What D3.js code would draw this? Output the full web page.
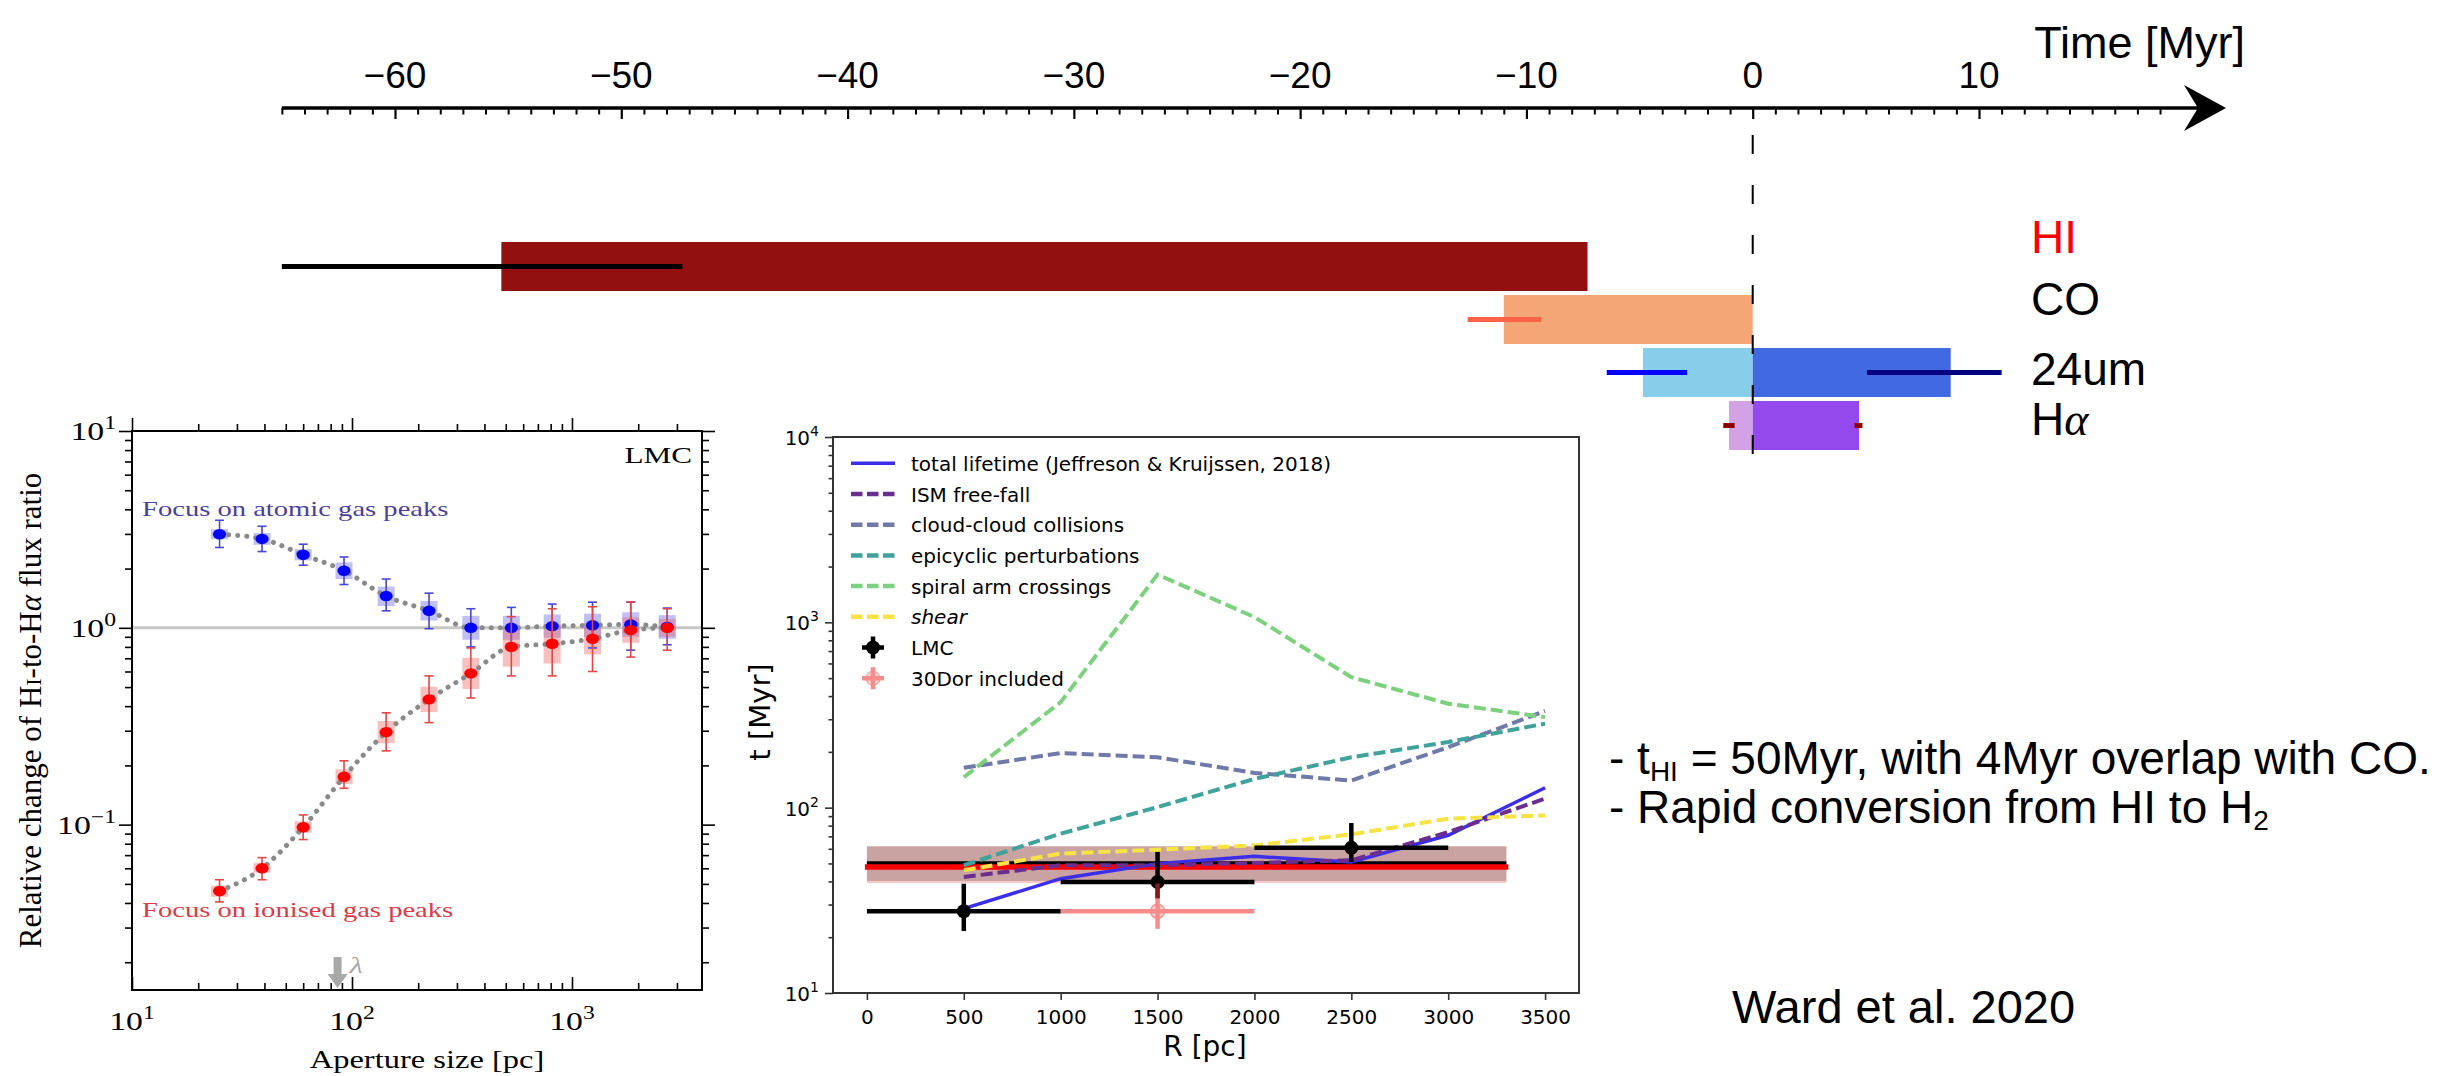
<!DOCTYPE html>
<html><head><meta charset="utf-8">
<script src="https://cdn.jsdelivr.net/npm/d3@7"></script>
<style>body{margin:0;background:#fff}</style>
</head><body>
<svg id="c" width="2461" height="1076" xmlns="http://www.w3.org/2000/svg"></svg>
<script>
// ================= DATA =================
// --- Timeline ---
const timeTicks = [-60, -50, -40, -30, -20, -10, 0, 10];
const timeMinorFrom = -65, timeMinorTo = 18;
const tracers = ["HI", "CO", "24um", "Hα"];
const segTracer = [0, 1, 2, 2, 3, 3];
const segStart  = [-55.3, -11.0, -4.85, 0, -1.05, 0];
const segEnd    = [-7.3, 0, 0, 8.75, 0, 4.7];
const errTracer = [0, 1, 2, 2, 3, 3];
const errStart  = [-65.0, -12.6, -6.45, 5.05, -1.3, 4.5];
const errEnd    = [-47.3, -9.35, -2.9, 11.0, -0.8, 4.85];

// --- Left panel (aperture size vs relative change) ---
const apertureSizes = [25, 39, 60, 92, 143, 224, 347, 530, 813, 1240, 1850, 2710];
const atomicRatio = [2.99, 2.83, 2.35, 1.95, 1.45, 1.22, 1.0, 1.0, 1.02, 1.03, 1.04, 1.01];
const atomicErrLo = [2.56, 2.44, 2.08, 1.66, 1.22, 0.99, 0.80, 0.80, 0.80, 0.79, 0.77, 0.82];
const atomicErrHi = [3.52, 3.28, 2.66, 2.29, 1.77, 1.50, 1.25, 1.27, 1.32, 1.35, 1.35, 1.26];
const atomicBoxLo = [2.82, 2.64, 2.20, 1.77, 1.29, 1.09, 0.87, 0.87, 0.89, 0.90, 0.90, 0.88];
const atomicBoxHi = [3.17, 3.03, 2.51, 2.15, 1.62, 1.37, 1.15, 1.15, 1.17, 1.18, 1.20, 1.16];
const ionisedRatio = [0.046, 0.060, 0.097, 0.175, 0.295, 0.433, 0.587, 0.80, 0.83, 0.88, 0.973, 1.0];
const ionisedErrLo = [0.0405, 0.0525, 0.084, 0.153, 0.237, 0.33, 0.44, 0.57, 0.57, 0.60, 0.71, 0.77];
const ionisedErrHi = [0.0525, 0.068, 0.112, 0.211, 0.37, 0.57, 0.79, 1.14, 1.25, 1.28, 1.355, 1.25];
const ionisedBoxLo = [0.043, 0.057, 0.091, 0.161, 0.259, 0.373, 0.489, 0.635, 0.659, 0.733, 0.839, 0.90];
const ionisedBoxHi = [0.049, 0.064, 0.104, 0.191, 0.336, 0.502, 0.704, 1.008, 1.046, 1.056, 1.129, 1.11];
const lambdaScale = 86;
const apMajor = [10, 100, 1000];
const apMinor = [20,30,40,50,60,70,80,90,200,300,400,500,600,700,800,900,2000,3000];
const ratioMajor = [0.1, 1, 10];
const ratioMinor = [0.02,0.03,0.04,0.05,0.06,0.07,0.08,0.09,0.2,0.3,0.4,0.5,0.6,0.7,0.8,0.9,2,3,4,5,6,7,8,9];

// --- Middle panel (R vs t) ---
const radii = [500, 1000, 1500, 2000, 2500, 3000, 3500];
const totalLifetime   = [28.5, 41.4, 49.9, 54.6, 50.9, 71, 128];
const ismFreeFall     = [42.3, 48.9, 48.9, 50.3, 52, 73.8, 112];
const cloudCollisions = [164, 197, 187, 154, 140, 212, 332];
const epicyclic       = [48.9, 72.4, 100.7, 143, 187, 226, 284];
const spiralArm       = [146, 371, 1812, 1067, 506, 364, 308];
const shearT          = [45.9, 56.5, 59.3, 62.6, 71.8, 87.2, 90.8];
const lmcR = [500, 1500, 2500];
const lmcT = [27.6, 39.7, 60.8];
const lmcTLo = [21.6, 32.4, 50.9];
const lmcTHi = [38.9, 57.7, 82.6];
const lmcRErr = [500, 500, 500];
const dorR = [1500];
const dorT = [27.6];
const dorTLo = [22.2];
const dorTHi = [39.0];
const dorRErr = [500];
const bandR = [0, 3300];
const bandLMC = [40.2, 61.8];
const band30Dor = [39.2, 61.8];
const meanLMC = 50;
const mean30Dor = 47.9;
const radTicks = [0, 500, 1000, 1500, 2000, 2500, 3000, 3500];
const tMajor = [10, 100, 1000, 10000];
const tMinor = [20,30,40,50,60,70,80,90,200,300,400,500,600,700,800,900,2000,3000,4000,5000,6000,7000,8000,9000];
const legendLabels = ["total lifetime (Jeffreson & Kruijssen, 2018)", "ISM free-fall", "cloud-cloud collisions",
  "epicyclic perturbations", "spiral arm crossings", "shear", "LMC", "30Dor included"];

// ================= STYLES =================
const segColors = ["#931011", "#f5a677", "#87ceeb", "#4169e1", "#d3a2e5", "#9449ec"];
const errColors = ["#000000", "#ff6347", "#0000ff", "#000080", "#8b0000", "#8b0000"];
const labelColors = ["#ff0000", "#000", "#000", "#000"];
const labelDy = [-13.5, -4.5, 12.5, 9.5];
const curveColors = ["#3b2de8", "#6b2d8e", "#6f7aa9", "#3fa39b", "#7cd17d", "#f6e445"];
const SANS = "'Liberation Sans', Arial, sans-serif";
const SERIF = "'Liberation Serif', 'Times New Roman', serif";
const DJ = "'DejaVu Sans', sans-serif";

const svg = d3.select("#c");
svg.append("rect").attr("width", 2461).attr("height", 1076).attr("fill", "#fff");

// ================= TIMELINE =================
const xT = d3.scaleLinear().domain([-60, 10]).range([395, 1979]);
const rowY = d3.scaleBand().domain(tracers).range([242, 450]).paddingInner(0.075);
const axisY = 108, tipX = 2226;
const gT = svg.append("g");

gT.append("line").attr("x1", xT(timeMinorFrom)).attr("x2", tipX - 14)
  .attr("y1", axisY).attr("y2", axisY).attr("stroke", "#000").attr("stroke-width", 3.5);
gT.append("path")
  .attr("d", `M${tipX},${axisY} L${tipX - 42},${axisY - 23} L${tipX - 28},${axisY} L${tipX - 42},${axisY + 23} Z`)
  .attr("fill", "#000");

const majorAx = gT.append("g").attr("transform", `translate(0,${axisY})`)
  .call(d3.axisBottom(xT).tickValues(timeTicks).tickSize(11).tickFormat(""));
majorAx.select(".domain").remove();
majorAx.selectAll("line").attr("stroke-width", 2.2);
const minorVals = d3.range(timeMinorFrom, timeMinorTo + 1).filter(v => !timeTicks.includes(v));
const minorAx = gT.append("g").attr("transform", `translate(0,${axisY})`)
  .call(d3.axisBottom(xT).tickValues(minorVals).tickSize(6.5).tickFormat(""));
minorAx.select(".domain").remove();
minorAx.selectAll("line").attr("stroke-width", 2);

gT.selectAll("text.tl").data(timeTicks).join("text")
  .attr("x", d => xT(d)).attr("y", 88).attr("text-anchor", "middle")
  .attr("font-family", SANS).attr("font-size", 37)
  .text(d => d < 0 ? "\u2212" + Math.abs(d) : d);
gT.append("text").attr("x", 2245).attr("y", 58).attr("text-anchor", "end")
  .attr("font-family", SANS).attr("font-size", 45).text("Time [Myr]");

// bars
gT.selectAll("rect.seg").data(segTracer).join("rect")
  .attr("x", (d, i) => xT(segStart[i]))
  .attr("width", (d, i) => xT(segEnd[i]) - xT(segStart[i]))
  .attr("y", d => rowY(tracers[d])).attr("height", rowY.bandwidth())
  .attr("fill", (d, i) => segColors[i]);
// error lines
gT.selectAll("line.err").data(errTracer).join("line")
  .attr("x1", (d, i) => xT(errStart[i])).attr("x2", (d, i) => xT(errEnd[i]))
  .attr("y1", d => rowY(tracers[d]) + rowY.bandwidth() / 2)
  .attr("y2", d => rowY(tracers[d]) + rowY.bandwidth() / 2)
  .attr("stroke", (d, i) => errColors[i]).attr("stroke-width", 5);
// dashed zero line
gT.append("line").attr("x1", xT(0)).attr("x2", xT(0)).attr("y1", 135).attr("y2", 455)
  .attr("stroke", "#000").attr("stroke-width", 2).attr("stroke-dasharray", "19 31");
// labels
tracers.forEach((t, i) => {
  const tx = gT.append("text").attr("x", 2031)
    .attr("y", rowY(t) + rowY.bandwidth() / 2 + labelDy[i])
    .attr("font-family", SANS).attr("font-size", 46).attr("fill", labelColors[i]);
  if (t === "Hα") {
    tx.append("tspan").text("H");
    tx.append("tspan").attr("font-style", "italic").attr("font-family", SERIF).text("α");
  } else tx.text(t);
});

// ================= RIGHT TEXT =================
const t1 = svg.append("text").attr("x", 1609).attr("y", 774).attr("font-family", SANS).attr("font-size", 46);
t1.append("tspan").text("- t");
t1.append("tspan").attr("font-size", 28).attr("dy", 7).text("HI");
t1.append("tspan").attr("dy", -7).text(" = 50Myr, with 4Myr overlap with CO.");
const t2 = svg.append("text").attr("x", 1609).attr("y", 823).attr("font-family", SANS).attr("font-size", 46);
t2.append("tspan").text("- Rapid conversion from HI to H");
t2.append("tspan").attr("font-size", 28).attr("dy", 7).text("2");
svg.append("text").attr("x", 1732).attr("y", 1023).attr("font-family", SANS).attr("font-size", 47)
  .text("Ward et al. 2020");

// ================= LEFT PANEL =================
const xL = d3.scaleLog().domain([10, 3900]).range([132, 702]);
const yL = d3.scaleLog().domain([0.01445, 10]).range([990, 431]);
const SX = 1.3; // horizontal stretch of the pasted panel
const gL = svg.append("g");
const [lx0, lx1] = xL.range(), [ly1, ly0] = yL.range();

gL.append("line").attr("x1", lx0).attr("x2", lx1).attr("y1", yL(1)).attr("y2", yL(1))
  .attr("stroke", "#c8c8c8").attr("stroke-width", 3);

function lAxis(axis, tr, vals, size) {
  const g = gL.append("g").attr("transform", tr)
    .call(axis.tickValues(vals).tickSize(size).tickFormat(""));
  g.select(".domain").remove();
  g.selectAll("line").attr("stroke", "#000").attr("stroke-width", 1.6);
}
lAxis(d3.axisTop(xL), `translate(0,${ly0})`, apMajor, 13);
lAxis(d3.axisTop(xL), `translate(0,${ly0})`, apMinor, 7);
lAxis(d3.axisBottom(xL), `translate(0,${ly1})`, apMajor, -13);
lAxis(d3.axisBottom(xL), `translate(0,${ly1})`, apMinor, -7);
lAxis(d3.axisLeft(yL), `translate(${lx0},0)`, ratioMajor, 13);
lAxis(d3.axisLeft(yL), `translate(${lx0},0)`, ratioMinor, 7);
lAxis(d3.axisRight(yL), `translate(${lx1},0)`, ratioMajor, 13);
lAxis(d3.axisRight(yL), `translate(${lx1},0)`, ratioMinor, 7);
gL.append("rect").attr("x", lx0).attr("y", ly0).attr("width", lx1 - lx0).attr("height", ly1 - ly0)
  .attr("fill", "none").attr("stroke", "#000").attr("stroke-width", 2);

function pow10(g, x, y, exp, size, anchor) {
  const t = g.append("text").attr("transform", `translate(${x},${y}) scale(${SX},1)`)
    .attr("text-anchor", anchor).attr("font-family", SERIF).attr("font-size", size);
  t.append("tspan").text("10");
  t.append("tspan").attr("dy", -0.42 * size).attr("font-size", size * 0.7).text(exp);
  return t;
}
apMajor.forEach(v => pow10(gL, xL(v), 1030, String(Math.round(Math.log10(v))), 26, "middle"));
ratioMajor.forEach(v => {
  const e = Math.round(Math.log10(v));
  pow10(gL, 116, yL(v) + 9, e < 0 ? "\u2212" + Math.abs(e) : String(e), 26, "end");
});

// boxes
function boxes(bLo, bHi, boxFill) {
  gL.selectAll(null).data(apertureSizes).join("rect")
    .attr("x", d => xL(d) - 8.5).attr("width", 17)
    .attr("y", (d, i) => yL(bHi[i])).attr("height", (d, i) => yL(bLo[i]) - yL(bHi[i]))
    .attr("fill", boxFill);
}
boxes(atomicBoxLo, atomicBoxHi, "rgba(90,90,235,0.38)");
boxes(ionisedBoxLo, ionisedBoxHi, "rgba(240,90,90,0.38)");

const dotLine = d3.line().x((d, i) => xL(apertureSizes[i])).y(d => yL(d)).curve(d3.curveMonotoneX);
[atomicRatio, ionisedRatio].forEach(arr => {
  gL.append("path").attr("d", dotLine(arr)).attr("fill", "none")
    .attr("stroke", "#8a8a8a").attr("stroke-width", 5).attr("stroke-linecap", "round")
    .attr("stroke-dasharray", "0.1 9");
});
function errs(vals, lo, hi, errCol, dotCol) {
  apertureSizes.forEach((a, i) => {
    const x = xL(a);
    gL.append("line").attr("x1", x).attr("x2", x).attr("y1", yL(lo[i])).attr("y2", yL(hi[i]))
      .attr("stroke", errCol).attr("stroke-width", 1.6);
    [lo[i], hi[i]].forEach(v => gL.append("line").attr("x1", x - 4.5).attr("x2", x + 4.5)
      .attr("y1", yL(v)).attr("y2", yL(v)).attr("stroke", errCol).attr("stroke-width", 1.6));
  });
  gL.selectAll(null).data(vals).join("ellipse")
    .attr("cx", (d, i) => xL(apertureSizes[i])).attr("cy", d => yL(d))
    .attr("rx", 6.6).attr("ry", 5.2).attr("fill", dotCol);
}
errs(atomicRatio, atomicErrLo, atomicErrHi, "#4a46d6", "#0000ff");
errs(ionisedRatio, ionisedErrLo, ionisedErrHi, "#e24848", "#ff0000");

gL.append("text").attr("transform", `translate(692,463) scale(${SX},1)`).attr("text-anchor", "end")
  .attr("font-family", SERIF).attr("font-size", 24).text("LMC");
gL.append("text").attr("transform", `translate(142,516) scale(${SX},1)`)
  .attr("font-family", SERIF).attr("font-size", 22).attr("fill", "#4b3f9c").text("Focus on atomic gas peaks");
gL.append("text").attr("transform", `translate(142,917) scale(${SX},1)`)
  .attr("font-family", SERIF).attr("font-size", 22).attr("fill", "#de3a46").text("Focus on ionised gas peaks");
// lambda arrow
const ax = xL(lambdaScale);
gL.append("path").attr("d", `M${ax - 4},957 L${ax + 4},957 L${ax + 4},974 L${ax + 10},974 L${ax},988 L${ax - 10},974 L${ax - 4},974 Z`)
  .attr("fill", "#a8a8a8");
gL.append("text").attr("transform", `translate(${ax + 12},973) scale(${SX},1)`)
  .attr("font-family", SERIF).attr("font-style", "italic").attr("font-size", 24).attr("fill", "#a8a8a8").text("λ");
gL.append("text").attr("transform", `translate(${(lx0 + lx1) / 2 + 10},1068) scale(${SX},1)`)
  .attr("text-anchor", "middle").attr("font-family", SERIF).attr("font-size", 25).text("Aperture size [pc]");
const yl = gL.append("text").attr("transform", `translate(41,${(ly0 + ly1) / 2}) rotate(-90)`)
  .attr("text-anchor", "middle").attr("font-family", SERIF).attr("font-size", 31);
yl.append("tspan").text("Relative change of H");
yl.append("tspan").attr("font-size", 22).text("I");
yl.append("tspan").text("-to-H");
yl.append("tspan").attr("font-style", "italic").text("α");
yl.append("tspan").text(" flux ratio");

// ================= MIDDLE PANEL =================
const xM = d3.scaleLinear().domain([-175, 3675]).range([833, 1579]);
const yM = d3.scaleLog().domain([10, 10000]).range([993, 437]);
const gM = svg.append("g");
const [mx0, mx1] = xM.range(), [my1, my0] = yM.range();

// band + mean lines
gM.append("rect").attr("x", xM(bandR[0])).attr("width", xM(bandR[1]) - xM(bandR[0]))
  .attr("y", yM(band30Dor[1])).attr("height", yM(band30Dor[0]) - yM(band30Dor[1])).attr("fill", "#f7c9c9");
gM.append("rect").attr("x", xM(bandR[0])).attr("width", xM(bandR[1]) - xM(bandR[0]))
  .attr("y", yM(bandLMC[1])).attr("height", yM(bandLMC[0]) - yM(bandLMC[1])).attr("fill", "#c9a2a2");
gM.append("line").attr("x1", xM(bandR[0])).attr("x2", xM(bandR[1])).attr("y1", yM(meanLMC)).attr("y2", yM(meanLMC))
  .attr("stroke", "#000").attr("stroke-width", 4.5);
gM.append("line").attr("x1", xM(bandR[0]) - 2).attr("x2", xM(bandR[1]) + 2).attr("y1", yM(mean30Dor)).attr("y2", yM(mean30Dor))
  .attr("stroke", "#ff0000").attr("stroke-width", 5.5);

// curves
const lineM = d3.line().x((d, i) => xM(radii[i])).y(d => yM(d));
const curves = [totalLifetime, ismFreeFall, cloudCollisions, epicyclic, spiralArm, shearT];
curves.forEach((c, k) => {
  gM.append("path").attr("d", lineM(c)).attr("fill", "none").attr("stroke", curveColors[k])
    .attr("stroke-width", k === 0 ? 3.5 : 4).attr("stroke-dasharray", k === 0 ? null : "12 5");
});

// LMC points
lmcR.forEach((r, i) => {
  gM.append("line").attr("x1", xM(r - lmcRErr[i])).attr("x2", xM(r + lmcRErr[i]))
    .attr("y1", yM(lmcT[i])).attr("y2", yM(lmcT[i])).attr("stroke", "#000").attr("stroke-width", 4.5);
  gM.append("line").attr("x1", xM(r)).attr("x2", xM(r)).attr("y1", yM(lmcTLo[i])).attr("y2", yM(lmcTHi[i]))
    .attr("stroke", "#000").attr("stroke-width", 4.5);
  gM.append("circle").attr("cx", xM(r)).attr("cy", yM(lmcT[i])).attr("r", 7).attr("fill", "#000");
});
dorR.forEach((r, i) => {
  const g = gM.append("g").attr("opacity", 0.55);
  g.append("line").attr("x1", xM(r - dorRErr[i])).attr("x2", xM(r + dorRErr[i]))
    .attr("y1", yM(dorT[i])).attr("y2", yM(dorT[i])).attr("stroke", "#f03030").attr("stroke-width", 4.5);
  g.append("line").attr("x1", xM(r)).attr("x2", xM(r)).attr("y1", yM(dorTLo[i])).attr("y2", yM(dorTHi[i]))
    .attr("stroke", "#f03030").attr("stroke-width", 4.5);
  g.append("circle").attr("cx", xM(r)).attr("cy", yM(dorT[i])).attr("r", 7)
    .attr("fill", "rgba(240,48,48,0.4)").attr("stroke", "#f03030").attr("stroke-width", 1.5);
});

// frame and axes
gM.append("rect").attr("x", mx0).attr("y", my0).attr("width", mx1 - mx0).attr("height", my1 - my0)
  .attr("fill", "none").attr("stroke", "#333").attr("stroke-width", 2);
function mAxis(axis, tr, vals, size, fmt) {
  const g = gM.append("g").attr("transform", tr)
    .call(axis.tickValues(vals).tickSize(size).tickPadding(10).tickFormat(fmt || ""));
  g.select(".domain").remove();
  g.selectAll("line").attr("stroke", "#333").attr("stroke-width", 1.6);
  return g;
}
mAxis(d3.axisLeft(yM), `translate(${mx0},0)`, tMajor, 8);
mAxis(d3.axisLeft(yM), `translate(${mx0},0)`, tMinor, 4.5);
const bx = mAxis(d3.axisBottom(xM), `translate(0,${my1})`, radTicks, 7, d3.format("d"));
bx.selectAll("text").attr("font-family", DJ).attr("font-size", 20).attr("fill", "#000");
tMajor.forEach(v => {
  const t = gM.append("text").attr("x", 819).attr("y", yM(v) + 8).attr("text-anchor", "end")
    .attr("font-family", DJ).attr("font-size", 20);
  t.append("tspan").text("10");
  t.append("tspan").attr("dy", -9).attr("font-size", 14).text(Math.round(Math.log10(v)));
});
gM.append("text").attr("x", (mx0 + mx1) / 2 - 1).attr("y", 1056).attr("text-anchor", "middle")
  .attr("font-family", DJ).attr("font-size", 28).text("R [pc]");
gM.append("text").attr("transform", `translate(770,712) rotate(-90)`).attr("text-anchor", "middle")
  .attr("font-family", DJ).attr("font-size", 29).text("t [Myr]");

// legend
const legY = d3.scaleLinear().domain([0, 7]).range([463.3, 678.2]);
legendLabels.forEach((lab, i) => {
  const y = legY(i);
  if (i < 6) {
    gM.append("line").attr("x1", 851).attr("x2", 895).attr("y1", y).attr("y2", y)
      .attr("stroke", curveColors[i]).attr("stroke-width", i === 0 ? 3.5 : 4.5)
      .attr("stroke-dasharray", i === 0 ? null : "11.5 4.5");
  } else if (i === 6) {
    gM.append("line").attr("x1", 862).attr("x2", 884).attr("y1", y).attr("y2", y).attr("stroke", "#000").attr("stroke-width", 4.5);
    gM.append("line").attr("x1", 873).attr("x2", 873).attr("y1", y - 11).attr("y2", y + 11).attr("stroke", "#000").attr("stroke-width", 4.5);
    gM.append("circle").attr("cx", 873).attr("cy", y).attr("r", 7).attr("fill", "#000");
  } else {
    const g = gM.append("g").attr("opacity", 0.55);
    g.append("line").attr("x1", 862).attr("x2", 884).attr("y1", y).attr("y2", y).attr("stroke", "#f03030").attr("stroke-width", 4.5);
    g.append("line").attr("x1", 873).attr("x2", 873).attr("y1", y - 11).attr("y2", y + 11).attr("stroke", "#f03030").attr("stroke-width", 4.5);
    g.append("circle").attr("cx", 873).attr("cy", y).attr("r", 7).attr("fill", "rgba(240,48,48,0.4)").attr("stroke", "#f03030");
  }
  gM.append("text").attr("x", 911).attr("y", y + 7.5).attr("font-family", DJ).attr("font-size", 20)
    .attr("font-style", i === 5 ? "italic" : null).text(lab);
});
</script>
</body></html>
